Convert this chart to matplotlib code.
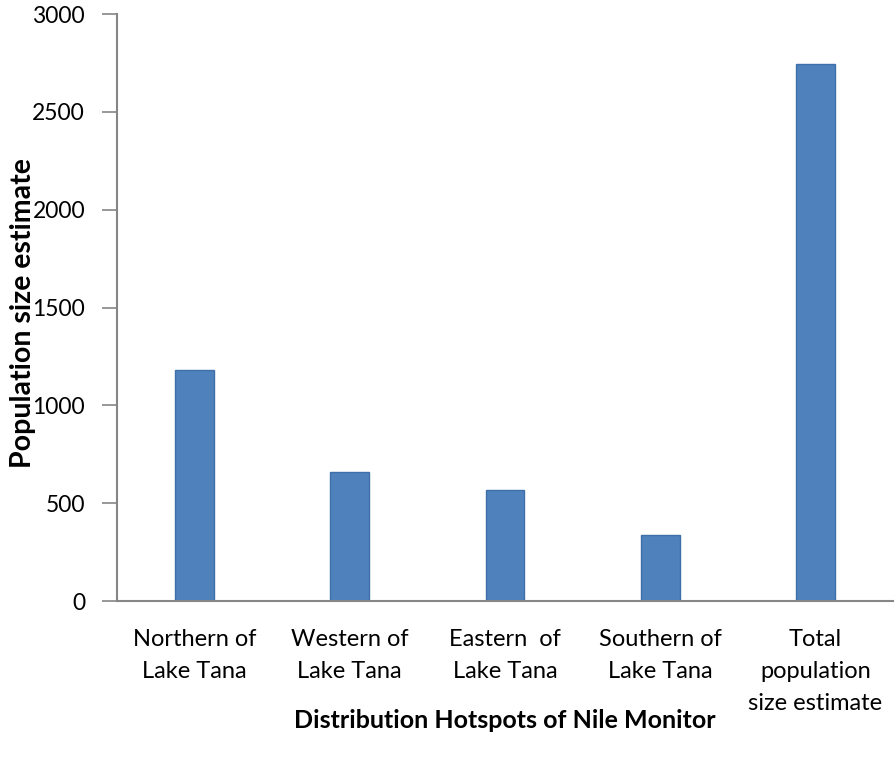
import numpy as np
import matplotlib
matplotlib.use("Agg")
import matplotlib.pyplot as plt

plt.rcParams['font.family'] = ['Lato', 'DejaVu Sans']

# data
categories = ["Northern of\nLake Tana", "Western of\nLake Tana", "Eastern  of\nLake Tana",
              "Southern of\nLake Tana", "Total\npopulation\nsize estimate"]
estimates = [1182, 659, 566, 337, 2744]
y_ticks = [0, 500, 1000, 1500, 2000, 2500, 3000]

fig = plt.figure(figsize=(8.96, 7.61), dpi=100)
ax = fig.add_axes([0.1306, 0.2102, 0.866, 0.7714])

x = np.arange(len(categories))
ax.bar(x, estimates, width=0.25, color='#4F81BD', edgecolor='#3F6FA8', linewidth=1)

ax.set_xlim(-0.5, len(categories) - 0.5)
ax.set_ylim(0, 3000)
ax.set_yticks(y_ticks)
ax.set_xticks(x)
ax.set_xticklabels(categories, fontsize=17, linespacing=1.65, va='top')
ax.tick_params(axis='x', length=0, pad=20)
ax.tick_params(axis='y', length=11, width=1.2, color='#868686', labelsize=16.5, pad=12)

for side in ['top', 'right']:
    ax.spines[side].set_visible(False)
for side in ['left', 'bottom']:
    ax.spines[side].set_color('#868686')
    ax.spines[side].set_linewidth(1.5)

ax.set_ylabel('Population size estimate', fontsize=20.5, fontweight='bold')
ax.yaxis.set_label_coords(-0.105, 0.49)
ax.set_xlabel('Distribution Hotspots of Nile Monitor', fontsize=18, fontweight='bold')
ax.xaxis.set_label_coords(0.5, -0.184)

fig.savefig('out.png', dpi=100)
